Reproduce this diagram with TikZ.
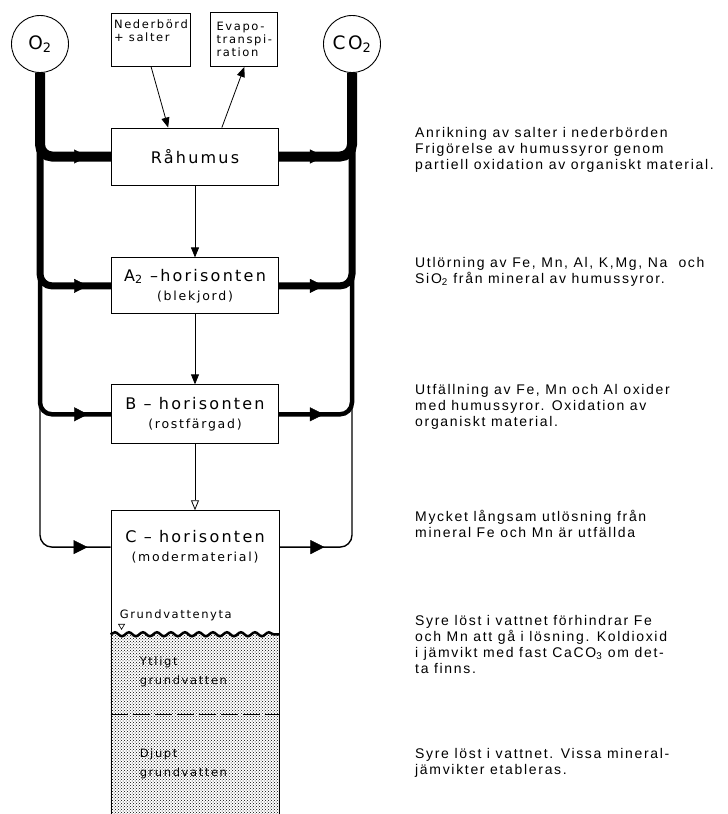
\documentclass[tikz,border=0pt]{standalone}
\usepackage{fontspec}
\setmainfont{Liberation Sans}
\newfontfamily\letterfont[LetterSpace=14]{DejaVu Sans}
\newfontfamily\notesfont[LetterSpace=12]{Liberation Sans}
\usetikzlibrary{arrows.meta,positioning,calc,decorations.markings,decorations.pathmorphing,patterns}
\tikzset{
	hbox/.style={draw, line width=0.9pt, minimum width=167pt, inner sep=2pt, align=center,
		font=\letterfont\fontsize{16}{19}\selectfont},
	smallbox/.style={draw, line width=0.9pt, align=left, inner sep=3pt,
		font=\letterfont\fontsize{11.5}{13}\selectfont},
	gas/.style={draw, circle, line width=0.9pt, minimum size=57pt, inner sep=0pt,
		font=\letterfont\fontsize{18.5}{20}\selectfont},
	arrow/.style={-{Triangle[length=10pt,width=8pt]}, line width=0.8pt},
	openarrow/.style={-{Triangle[open,length=10pt,width=8pt]}, line width=0.8pt},
	inflow/.style={line width=#1, rounded corners=12pt, postaction={decorate},
		decoration={markings, mark=at position -23pt with {\arrow{Triangle[length=14pt,width=14pt,line width=0.4pt]}}}},
	outflow/.style={line width=#1, rounded corners=12pt, postaction={decorate},
		decoration={markings, mark=at position 45pt with {\arrow{Triangle[length=14pt,width=14pt,line width=0.4pt]}}}},
	note/.style={anchor=north west, align=left, inner sep=0pt,
		font=\notesfont\fontsize{14}{16}\selectfont},
	water/.style={align=left, inner sep=0pt, font=\letterfont\fontsize{11.5}{19}\selectfont}
}
\newcommand{\sublabel}[1]{{\fontsize{12.5}{15}\selectfont #1}}

\begin{document}
\begin{tikzpicture}[x=1pt, y=-1pt]
	\useasboundingbox (0,0) rectangle (728,814);
	
	%% -- gases and top inputs
	\node[gas] (o2) at (40,44) {O\textsubscript{2}};
	\node[gas] (co2) at (352,44) {CO\textsubscript{2}};
	\node[smallbox, minimum width=74pt, minimum height=53pt, text depth=17pt] (ned) at (151,39.5)
	{Nederbörd\\+ salter};
	\node[smallbox, minimum width=67pt, minimum height=54pt, right=19pt of ned] (evap)
	{Evapo-\\transpi-\\ration};
	
	%% -- soil horizons
	\node[hbox, minimum height=57pt] (raw) at (195,156.5) {Råhumus};
	\node[hbox, minimum height=56pt, below=72pt of raw] (a2)
	{A\textsubscript{2} –horisonten\\ \sublabel{(blekjord)}};
	\node[hbox, minimum height=59pt, below=70pt of a2] (bhor)
	{B – horisonten\\ \sublabel{(rostfärgad)}};
	\node[draw, line width=0.9pt, minimum width=168pt, minimum height=312pt,
	inner sep=0pt, below=66pt of bhor] (cbox) {};
	\node[hbox, draw=none, below=18pt of cbox.north] (clabel)
	{C – horisonten\\ \sublabel{(modermaterial)}};
	
	%% -- groundwater
	\coordinate (wl) at ([yshift=-124pt]cbox.north west);
	\coordinate (wr) at ([yshift=-124pt]cbox.north east);
	\coordinate (dl) at ([yshift=-204pt]cbox.north west);
	\coordinate (dr) at ([yshift=-204pt]cbox.north east);
	\fill[pattern=crosshatch dots, pattern color=black] (wl) rectangle (cbox.south east);
	\draw[line width=2.5pt, decorate, decoration={snake, segment length=14pt, amplitude=2pt}]
	(wl) -- (wr);
	\draw[line width=1.4pt, dash pattern=on 17pt off 5pt] (dl) -- (dr);
	\node[water, anchor=west] (gwy) at ([xshift=9pt,yshift=19pt]wl) {Grundvattenyta};
	\draw[line width=0.6pt] ([xshift=8pt,yshift=10pt]wl) -- ++(6pt,0pt) -- ++(-3pt,-5pt) -- cycle;
	\node[water, anchor=north west] (ytl) at ([xshift=29pt,yshift=-22pt]wl) {Ytligt\\grundvatten};
	\node[water, anchor=north west] (djupt) at ([xshift=29pt,yshift=-34pt]dl) {Djupt\\grundvatten};
	
	%% -- water flow through the profile
	\coordinate (rawin) at ($(raw.north west)!0.34!(raw.north east)$);
	\coordinate (rawout) at ($(raw.north west)!0.66!(raw.north east)$);
	\draw[arrow] (ned.south) -- (rawin);
	\draw[arrow] (rawout) -- (evap.south);
	\draw[arrow] (raw) -- (a2);
	\draw[arrow] (a2) -- (bhor);
	\draw[openarrow] (bhor) -- (cbox.north);
	
	%% -- O2 in (left), CO2 out (right)
	\draw[inflow=10pt] (o2.south) |- (raw.west);
	\draw[inflow=7pt] (o2.south) |- (a2.west);
	\draw[inflow=4.5pt] (o2.south) |- (bhor.west);
	\draw[inflow=1.4pt] (o2.south) |- (cbox.west |- clabel);
	\draw[outflow=10pt] (raw.east) -| (co2.south);
	\draw[outflow=7pt] (a2.east) -| (co2.south);
	\draw[outflow=4.5pt] (bhor.east) -| (co2.south);
	\draw[outflow=1.4pt] (cbox.east |- clabel) -| (co2.south);
	
	%% -- notes (right column)
	\coordinate (notes) at (415,0);
	\node[note] (n1) at (notes |- raw.north)
	{Anrikning av salter i nederbörden\\Frigörelse av humussyror genom\\partiell oxidation av organiskt material.};
	\node[note] (n2) at (notes |- a2.north)
	{Utlörning av Fe, Mn, Al, K,Mg, Na \ och\\SiO\textsubscript{2} från mineral av humussyror.};
	\node[note] (n3) at (notes |- bhor.north)
	{Utfällning av Fe, Mn och Al oxider\\med humussyror. Oxidation av\\organiskt material.};
	\node[note] (n4) at (notes |- cbox.north)
	{Mycket långsam utlösning från\\mineral Fe och Mn är utfällda};
	\node[note, yshift=-6pt] (n5) at (notes |- gwy.north)
	{Syre löst i vattnet förhindrar Fe\\och Mn att gå i lösning. Koldioxid\\i jämvikt med fast CaCO\textsubscript{3} om det-\\ta finns.};
	\node[note] (n6) at (notes |- djupt.north)
	{Syre löst i vattnet. Vissa mineral-\\jämvikter etableras.};
	
\end{tikzpicture}
\end{document}
